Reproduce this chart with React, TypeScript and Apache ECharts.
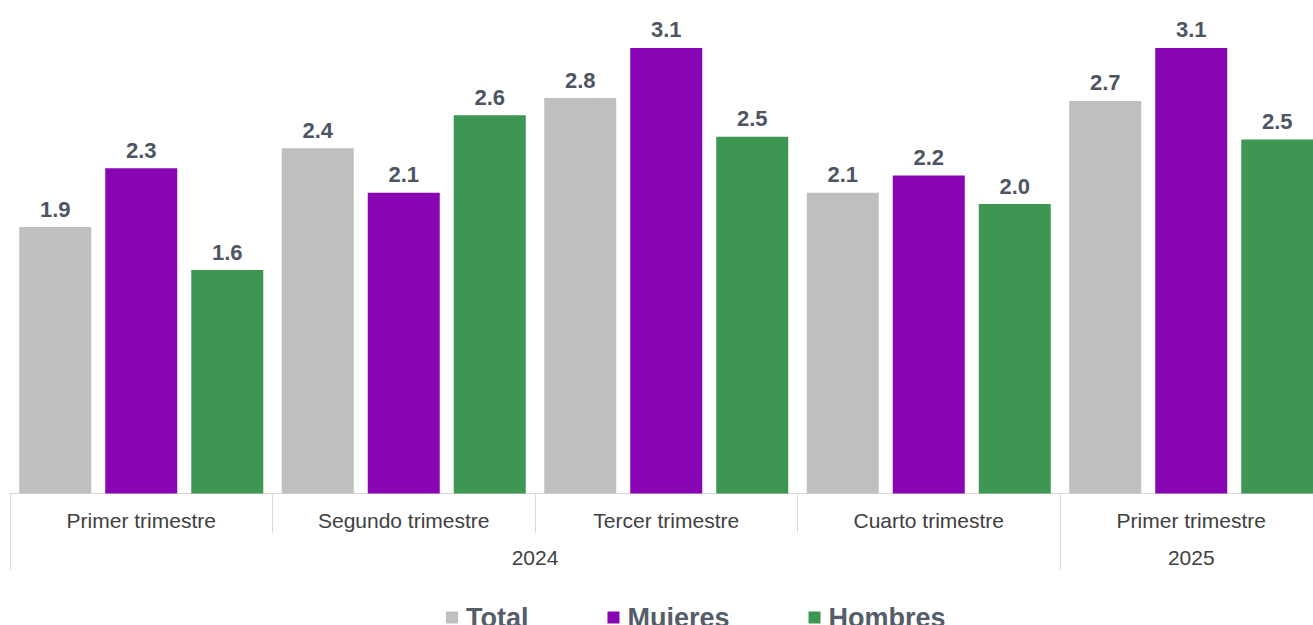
import React, { useEffect, useRef } from "react";
import * as echarts from "echarts";

const categories = ["Primer trimestre", "Segundo trimestre", "Tercer trimestre", "Cuarto trimestre", "Primer trimestre"];
const years = ["2024", "2025"];
const yearSpans = [4, 1];
const seriesNames = ["Total", "Mujeres", "Hombres"];
const total = [1.86, 2.41, 2.76, 2.1, 2.74];
const mujeres = [2.27, 2.1, 3.11, 2.22, 3.11];
const hombres = [1.56, 2.64, 2.49, 2.02, 2.47];
const colors = ["#BFBFBF", "#8805B3", "#3D9652"];

const FONT = "'Liberation Sans', Arial, sans-serif";

export default function App() {
  const ref = useRef<HTMLDivElement>(null);
  useEffect(() => {
    document.body.style.margin = "0";
    if (!ref.current) return;
    const chart = echarts.init(ref.current, null, { renderer: "svg" });

    const bounds: number[] = [];
    const centers: number[] = [];
    let acc = 0;
    yearSpans.forEach((s) => {
      bounds.push(acc);
      centers.push(acc + s / 2);
      acc += s;
    });

    const data = [total, mujeres, hombres];
    chart.setOption({
      animation: false,
      color: colors,
      grid: { left: 10, top: 35, width: 1312.5, height: 458.6, containLabel: false, outerBoundsMode: "none" },
      legend: {
        data: seriesNames,
        left: 441,
        top: 599,
        itemWidth: 12,
        itemHeight: 12,
        itemGap: 79,
        icon: "rect",
        textStyle: { fontFamily: FONT, fontSize: 27, fontWeight: "bold", color: "#555D68", padding: [0, 0, 0, 3] },
      },
      xAxis: [
        {
          type: "category",
          data: categories,
          axisLine: { show: true, lineStyle: { color: "#D9D9D9", width: 1 } },
          axisTick: { show: true, interval: 0, length: 39, lineStyle: { color: "#D9D9D9" } },
          axisLabel: { interval: 0, margin: 16, fontFamily: FONT, fontSize: 21, color: "#404040" },
        },
        {
          type: "value",
          position: "bottom",
          min: 0,
          max: acc,
          axisLine: { show: false },
          splitLine: { show: false },
          axisTick: { show: true, customValues: bounds, length: 76, lineStyle: { color: "#D9D9D9" } },
          axisLabel: {
            customValues: centers,
            margin: 53,
            fontFamily: FONT,
            fontSize: 21,
            color: "#404040",
            formatter: (v: number) => {
              const i = centers.indexOf(v);
              return i >= 0 ? years[i] : "";
            },
          },
        },
      ],
      yAxis: { type: "value", min: 0, max: 3.2, show: false, splitLine: { show: false } },
      series: seriesNames.map((name, i) => ({
        name,
        type: "bar",
        xAxisIndex: 0,
        data: data[i],
        barWidth: 72,
        barGap: "19.44%",
        itemStyle: { color: colors[i] },
        label: {
          show: true,
          position: "top",
          distance: 7,
          fontFamily: FONT,
          fontSize: 22,
          fontWeight: "bold",
          color: "#4D5563",
          formatter: (p: any) => Number(p.value).toFixed(1),
        },
      })),
    });
    return () => chart.dispose();
  }, []);
  return <div ref={ref} style={{ width: 1313, height: 625 }} />;
}
